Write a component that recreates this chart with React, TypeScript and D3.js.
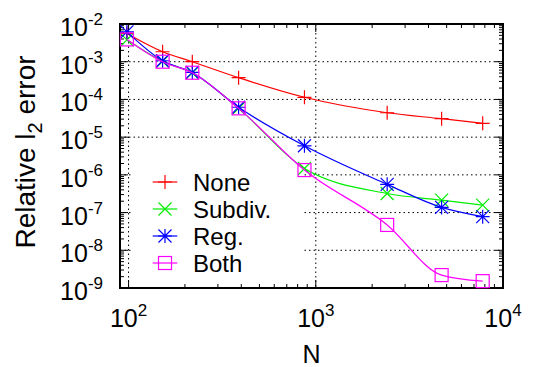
import React from "react";
import * as d3 from "d3";

const Ns = [98, 152, 219, 387, 870, 2406, 4700, 7790];
const noneVals = [5.6e-3, 1.84e-3, 1.0e-3, 3.77e-4, 1.14e-4, 4.44e-5, 3.08e-5, 2.32e-5];
const subdivVals = [3.8e-3, 1.02e-3, 5.1e-4, 5.8e-5, 1.47e-6, 3.2e-7, 2.13e-7, 1.58e-7];
const regVals = [6.2e-3, 1.06e-3, 5.2e-4, 6.2e-5, 5.9e-6, 5.6e-7, 1.37e-7, 7.8e-8];
const bothVals = [3.9e-3, 1.0e-3, 5.1e-4, 5.8e-5, 1.34e-6, 4.7e-8, 2.2e-9, 1.52e-9];

const seriesNames = ["None", "Subdiv.", "Reg.", "Both"];
const seriesColors = ["#ff0000", "#00ee00", "#0000ff", "#ff00ff"];
const seriesMarkers = ["plus", "cross", "star", "square"];
const seriesValues = [noneVals, subdivVals, regVals, bothVals];

const xTickExps = [2, 3, 4];
const yTickExps = [-9, -8, -7, -6, -5, -4, -3, -2];

const W = 539, H = 367;
const L = 120, R = 503, T = 24, B = 288;
const FONT = "'Liberation Sans', Arial, Helvetica, sans-serif";

function Marker({ type, x, y, color }: { type: string; x: number; y: number; color: string }) {
  const s = 7;
  const d = 6.5;
  const plus = `M${x - s},${y}H${x + s}M${x},${y - s}V${y + s}`;
  const cross = `M${x - d},${y - d}L${x + d},${y + d}M${x - d},${y + d}L${x + d},${y - d}`;
  if (type === "plus") return <path d={plus} stroke={color} strokeWidth={1.2} fill="none" />;
  if (type === "cross") return <path d={cross} stroke={color} strokeWidth={1.2} fill="none" />;
  if (type === "star") return <path d={plus + cross} stroke={color} strokeWidth={1.2} fill="none" />;
  return <rect x={x - 6.5} y={y - 6.5} width={13} height={13} stroke={color} strokeWidth={1.2} fill="none" />;
}

export default function App() {
  const x = d3.scaleLog().domain([90, 10000]).range([L, R]);
  const y = d3.scaleLog().domain([1e-9, 1e-2]).range([B, T]);
  const line = d3
    .line<[number, number]>()
    .x((d) => x(d[0]))
    .y((d) => y(d[1]))
    .curve(d3.curveMonotoneX);

  const xMinor: number[] = [];
  for (let e = 1; e <= 3; e++) for (let m = 2; m <= 9; m++) {
    const v = m * Math.pow(10, e);
    if (v > 90 && v < 10000) xMinor.push(v);
  }
  const yMinor: number[] = [];
  for (let e = -9; e <= -3; e++) for (let m = 2; m <= 9; m++) yMinor.push(m * Math.pow(10, e));

  const major = 8, minor = 4;
  const legendY0 = 182, legendDy = 27;

  return (
    <svg width={W} height={H} style={{ position: "absolute", left: 0, top: 0, background: "#fff" }} fontFamily={FONT}>
      <rect x={0} y={0} width={W} height={H} fill="#fff" />
      {xTickExps.map((e) => (
        <line key={"gx" + e} x1={x(Math.pow(10, e))} x2={x(Math.pow(10, e))} y1={T} y2={B} stroke="#000" strokeWidth={1} strokeDasharray="1.5,3" />
      ))}
      {yTickExps.map((e) => (
        <line key={"gy" + e} x1={L} x2={R} y1={y(Math.pow(10, e))} y2={y(Math.pow(10, e))} stroke="#000" strokeWidth={1} strokeDasharray="1.5,3" />
      ))}
      <rect x={131} y={158} width={172} height={128} fill="#fff" />
      {xTickExps.map((e) => {
        const px = x(Math.pow(10, e));
        return (
          <g key={"xt" + e}>
            <line x1={px} x2={px} y1={B} y2={B - major} stroke="#000" />
            <line x1={px} x2={px} y1={T} y2={T + major} stroke="#000" />
            <text x={px} y={327} fontSize={25} textAnchor="middle" fill="#000">
              10<tspan dy={-11} fontSize={17}>{e}</tspan>
            </text>
          </g>
        );
      })}
      {xMinor.map((v, i) => (
        <g key={"xm" + i}>
          <line x1={x(v)} x2={x(v)} y1={B} y2={B - minor} stroke="#000" />
          <line x1={x(v)} x2={x(v)} y1={T} y2={T + minor} stroke="#000" />
        </g>
      ))}
      {yTickExps.map((e) => {
        const py = y(Math.pow(10, e));
        return (
          <g key={"yt" + e}>
            <line x1={L} x2={L + major} y1={py} y2={py} stroke="#000" />
            <line x1={R} x2={R - major} y1={py} y2={py} stroke="#000" />
            <text x={103} y={py + 12} fontSize={25} textAnchor="end" fill="#000">
              10<tspan dy={-11} fontSize={17}>{e}</tspan>
            </text>
          </g>
        );
      })}
      {yMinor.map((v, i) => (
        <g key={"ym" + i}>
          <line x1={L} x2={L + minor} y1={y(v)} y2={y(v)} stroke="#000" />
          <line x1={R} x2={R - minor} y1={y(v)} y2={y(v)} stroke="#000" />
        </g>
      ))}
      <rect x={L} y={T} width={R - L} height={B - T} fill="none" stroke="#000" strokeWidth={2} />
      {seriesValues.map((vals, si) => {
        const pts: [number, number][] = Ns.map((n, i) => [n, vals[i]]);
        return (
          <g key={"s" + si}>
            <path d={line(pts) || ""} fill="none" stroke={seriesColors[si]} strokeWidth={1.2} />
            {pts.map((p, i) => (
              <Marker key={i} type={seriesMarkers[si]} x={x(p[0])} y={y(p[1])} color={seriesColors[si]} />
            ))}
          </g>
        );
      })}
      {seriesNames.map((name, si) => {
        const ly = legendY0 + si * legendDy;
        return (
          <g key={"lg" + si}>
            <line x1={152.7} x2={177.3} y1={ly} y2={ly} stroke={seriesColors[si]} strokeWidth={1.2} />
            <Marker type={seriesMarkers[si]} x={165} y={ly} color={seriesColors[si]} />
            <text x={193} y={ly + 9} fontSize={24} fill="#000">{name}</text>
          </g>
        );
      })}
      <text x={(L + R) / 2} y={363} fontSize={25} textAnchor="middle" fill="#000">N</text>
      <text transform="translate(35,152) rotate(-90)" fontSize={28} textAnchor="middle" fill="#000">
        Relative l<tspan dy={7} fontSize={20}>2</tspan><tspan dy={-7}> error</tspan>
      </text>
    </svg>
  );
}
